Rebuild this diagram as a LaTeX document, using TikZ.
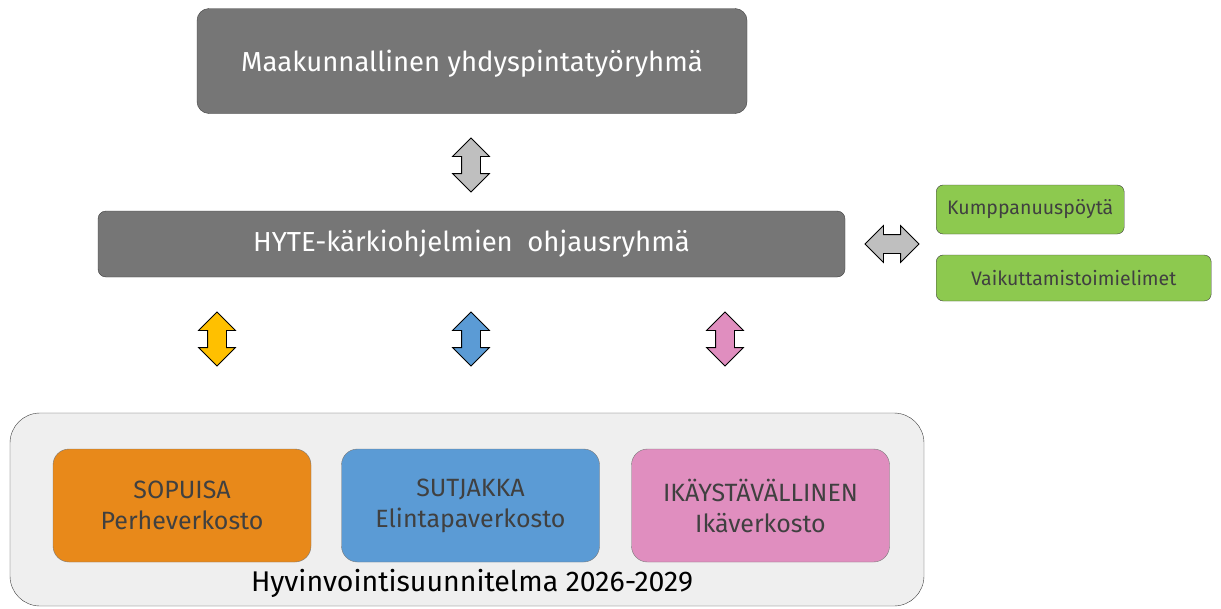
\documentclass[tikz,border=0pt]{standalone}
\usepackage{fontspec}
\setmainfont{Fira Sans}
\usetikzlibrary{shapes.arrows,positioning}

\definecolor{boxgrey}{HTML}{767676}
\definecolor{edgegrey}{HTML}{3F3F3F}
\definecolor{txtgrey}{HTML}{404040}
\definecolor{arrowgrey}{HTML}{BFBFBF}
\definecolor{plangrey}{HTML}{EFEFEF}
\definecolor{perhe}{HTML}{E8891A}
\definecolor{perhearrow}{HTML}{FFC000}
\definecolor{elintapa}{HTML}{5B9BD5}
\definecolor{ika}{HTML}{E08EBF}
\definecolor{kumppani}{HTML}{8DC94F}

\tikzset{
  mainbox/.style={draw=edgegrey, fill=boxgrey, rounded corners=12pt, text=white,
    font=\fontsize{27.5}{32}\selectfont},
  sidebox/.style={draw=edgegrey, fill=kumppani, rounded corners=7pt, text=txtgrey,
    font=\fontsize{19.5}{23}\selectfont, anchor=west},
  netbox/.style={draw=edgegrey!70, rounded corners=16pt, text=txtgrey, align=center,
    minimum width=258pt, minimum height=113pt, font=\fontsize{25}{31}\selectfont},
  updown/.style={double arrow, draw=black, line width=0.8pt, rotate=90,
    minimum height=54pt, inner xsep=0pt, inner ysep=9pt, double arrow head extend=9pt}
}

\begin{document}
\begin{tikzpicture}[x=1pt,y=-1pt]
\useasboundingbox (0,0) rectangle (1221,608);
%draw plan container
\draw [draw=edgegrey, fill=plangrey, rounded corners=30pt] (10,413) rectangle (924,606);
\node (plan) [text=black, font=\fontsize{28.5}{32}\selectfont] at (472,583) {Hyvinvointisuunnitelma 2026-2029};
%draw steering groups
\node (maak) [mainbox, text depth=0pt, minimum width=550pt, minimum height=105pt] at (472,61) {Maakunnallinen yhdyspintatyöryhmä};
\node (hyte) [mainbox, rounded corners=8pt, minimum width=747pt, minimum height=66pt] at (471.5,244) {HYTE-kärkiohjelmien\ \ ohjausryhmä};
% partners on the right
\node (kump) [sidebox, minimum width=188pt, minimum height=49pt] at (936,209.5) {Kumppanuuspöytä};
\node (vaik) [sidebox, minimum width=275pt, minimum height=46pt] at (936,278) {Vaikuttamistoimielimet};
% networks
\node (perheverkko) [netbox, fill=perhe] at (182,505.5) {SOPUISA\\Perheverkosto};
\node (elintapaverkko) [netbox, fill=elintapa] at (470.5,505.5) {SUTJAKKA\\Elintapaverkosto};
\node (ikaverkko) [netbox, fill=ika] at (760.5,505.5) {IKÄYSTÄVÄLLINEN\\Ikäverkosto};
% block arrows between the groups
\node (a1) [updown, fill=arrowgrey] at (471,165) {};
\node (a2) [updown, fill=arrowgrey, rotate=-90] at (892,244) {};
\node (a3) [updown, fill=perhearrow] at (217,339) {};
\node (a4) [updown, fill=elintapa] at (471,339) {};
\node (a5) [updown, fill=ika] at (725,339) {};
\end{tikzpicture}
\end{document}
